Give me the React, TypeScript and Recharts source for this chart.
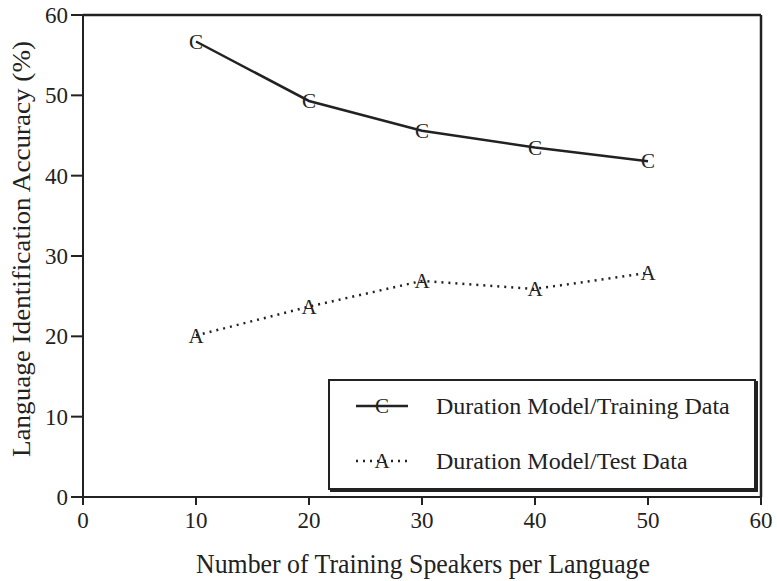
import React from "react";
import { LineChart, Line, XAxis, YAxis, ReferenceLine } from "recharts";

const speakers = [10, 20, 30, 40, 50];
const trainingAcc = [56.7, 49.3, 45.6, 43.5, 41.8];
const testAcc = [20.1, 23.7, 26.9, 25.9, 27.9];
const xTicks = [0, 10, 20, 30, 40, 50, 60];
const yTicks = [0, 10, 20, 30, 40, 50, 60];

const data = speakers.map((s, i) => ({
  speakers: s,
  training: trainingAcc[i],
  test: testAcc[i],
}));

const INK = "#222";
const SERIF = "'Liberation Serif', 'Times New Roman', serif";

// letter markers, as in the original plot
function letterDot(letter: string) {
  return (props: any) => {
    const { cx, cy, index } = props;
    if (cx == null || cy == null) return null;
    return (
      <text
        key={`${letter}-${index}`}
        x={cx}
        y={cy}
        textAnchor="middle"
        dominantBaseline="central"
        fontFamily={SERIF}
        fontSize={21}
        fill={INK}
      >
        {letter}
      </text>
    );
  };
}

function LegendBox() {
  const row = (letter: string, dash: string | undefined, label: string, y: number) => (
    <g>
      <line x1={28} x2={80} y1={y} y2={y} stroke={INK} strokeWidth={2.5} strokeDasharray={dash} />
      <text x={54} y={y} textAnchor="middle" dominantBaseline="central" fontFamily={SERIF} fontSize={21} fill={INK}>
        {letter}
      </text>
      <text x={108} y={y} dominantBaseline="central" fontFamily={SERIF} fontSize={24} fill={INK}>
        {label}
      </text>
    </g>
  );
  return (
    <svg width={432} height={114} style={{ display: "block" }}>
      <rect x={1} y={1} width={426} height={109} fill="#fff" stroke={INK} strokeWidth={2} />
      <line x1={429} x2={429} y1={2} y2={112} stroke={INK} strokeWidth={2} />
      <line x1={2} x2={430} y1={112} y2={112} stroke={INK} strokeWidth={2} />
      {row("C", undefined, "Duration Model/Training Data", 27)}
      {row("A", "2 5", "Duration Model/Test Data", 82)}
    </svg>
  );
}

function YLabel() {
  const cx = 21;
  const cy = 249;
  return (
    <text
      x={cx}
      y={cy}
      transform={`rotate(-90 ${cx} ${cy})`}
      textAnchor="middle"
      dominantBaseline="central"
      fontFamily={SERIF}
      fontSize={26}
      fill={INK}
      textLength={416}
      lengthAdjust="spacingAndGlyphs"
    >
      Language Identification Accuracy (%)
    </text>
  );
}

function XLabel() {
  return (
    <text
      x={423}
      y={573}
      textAnchor="middle"
      fontFamily={SERIF}
      fontSize={28}
      fill={INK}
      textLength={454}
      lengthAdjust="spacingAndGlyphs"
    >
      Number of Training Speakers per Language
    </text>
  );
}

export default function App() {
  return (
    <div style={{ position: "absolute", left: 0, top: 0, width: 777, height: 581, background: "#fff" }}>
      <LineChart width={777} height={581} data={data} margin={{ top: 15, right: 16, bottom: 0, left: 0 }}>
        <XAxis
          dataKey="speakers"
          type="number"
          domain={[0, 60]}
          ticks={xTicks}
          height={84}
          tickSize={8}
          tickMargin={7}
          stroke={INK}
          strokeWidth={2}
          tick={{ fill: INK, fontSize: 23, fontFamily: SERIF }}
          label={<XLabel />}
        />
        <YAxis
          type="number"
          domain={[0, 60]}
          ticks={yTicks}
          width={83}
          tickSize={12}
          tickMargin={3}
          stroke={INK}
          strokeWidth={2}
          tick={{ fill: INK, fontSize: 23, fontFamily: SERIF }}
          label={<YLabel />}
        />
        <ReferenceLine y={60} stroke={INK} strokeWidth={2.5} />
        <ReferenceLine x={60} stroke={INK} strokeWidth={2.5} />
        <Line
          dataKey="training"
          type="linear"
          stroke={INK}
          strokeWidth={2.5}
          dot={letterDot("C")}
          activeDot={false}
          isAnimationActive={false}
        />
        <Line
          dataKey="test"
          type="linear"
          stroke={INK}
          strokeWidth={2.5}
          strokeDasharray="2 5"
          dot={letterDot("A")}
          activeDot={false}
          isAnimationActive={false}
        />
      </LineChart>
      <div style={{ position: "absolute", left: 328, top: 379 }}>
        <LegendBox />
      </div>
    </div>
  );
}
